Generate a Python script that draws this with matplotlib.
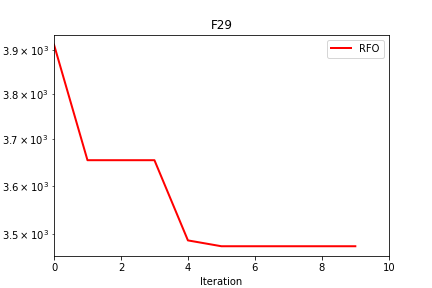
import numpy as np
import matplotlib
matplotlib.use("Agg")
import matplotlib.pyplot as plt

iterations = [0, 1, 2, 3, 4, 5, 6, 7, 8, 9]
rfo = [3913, 3655, 3655, 3655, 3486, 3474, 3474, 3474, 3474, 3474]

fig = plt.figure(figsize=(6, 4), dpi=72)
plt.plot(iterations, rfo, color="red", linewidth=2, label="RFO")
plt.yscale("log")
plt.xlim(0, 10)
plt.title("F29")
plt.xlabel("Iteration")
plt.legend(loc="upper right")
plt.savefig("out.png", dpi=72)
